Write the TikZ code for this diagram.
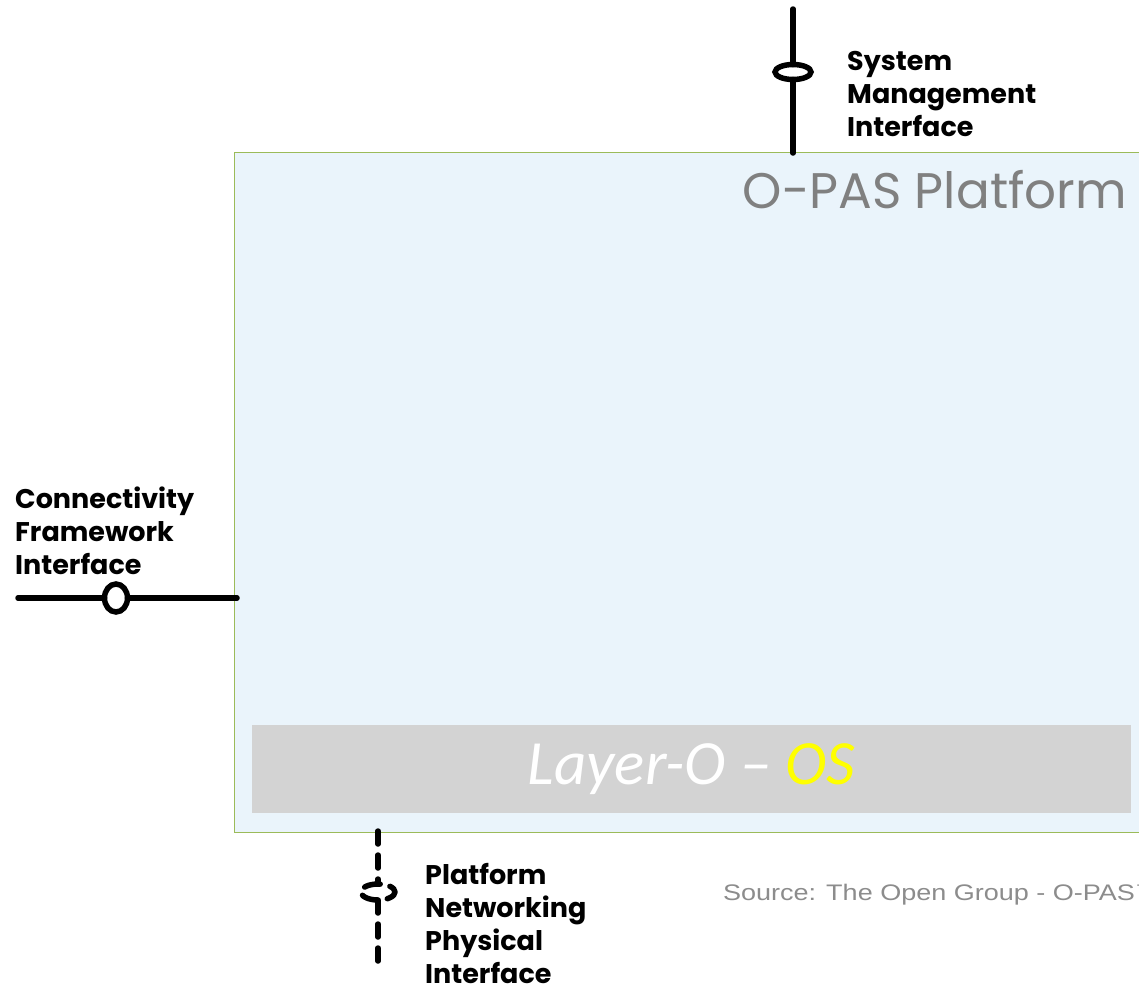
\documentclass[tikz,border=0pt]{standalone}
\usepackage{fontspec}
\setmainfont{Poppins}
\newfontfamily\calfont{Carlito}
\newfontfamily\arialfont[FakeStretch=1.2]{Liberation Sans}
\usetikzlibrary{shapes.geometric}
\definecolor{boxblue}{HTML}{EAF4FB}
\definecolor{boxgreen}{HTML}{9BBB59}
\definecolor{layergray}{HTML}{D3D3D3}
\definecolor{titlegray}{HTML}{808080}
\definecolor{srcgray}{HTML}{8C8C8C}
\definecolor{osyellow}{HTML}{FFFF00}
\begin{document}
\begin{tikzpicture}[x=1pt,y=-1pt,
  lbl/.style={font=\bfseries\fontsize{27}{33}\selectfont, align=left, anchor=north west, inner sep=0pt, text=black},
  wire/.style={line width=5.5pt, line cap=round},
  dwire/.style={wire, dash pattern=on 13pt off 11pt},
  ring/.style={ellipse, draw, line width=5.5pt, fill=white, inner sep=0pt, outer sep=0pt}]
\clip (0,0) rectangle (1139,993);
\fill[white] (0,0) rectangle (1139,993);
% platform box
\node[draw=boxgreen, fill=boxblue, line width=1.2pt, anchor=north west, inner sep=0pt,
  minimum width=930pt, minimum height=680pt] (plat) at (234,152) {};
\node[anchor=base east, inner sep=0pt, text=titlegray, font=\fontsize{50}{52}\selectfont] (title) at (1127,208) {O-PAS Platform};
% layer box
\node[fill=layergray, anchor=north west, inner sep=0pt, minimum width=879pt, minimum height=88pt,
  font=\calfont\itshape\fontsize{63}{65}\selectfont, text=white] (layer) at (252,725) {Layer-O – \textcolor{osyellow}{OS}};
% system management interface
\coordinate (smtop) at (793,9);
\node[ring, minimum width=36pt, minimum height=15pt] (smring) at (793,72) {};
\coordinate (smbot) at (793,153);
\draw[wire] (smtop) -- (smring);
\draw[wire] (smring) -- (smbot);
\node[lbl] (smlbl) at (847,51) {System\\Management\\Interface};
% connectivity framework interface
\coordinate (cfleft) at (18,598);
\node[ring, minimum width=23pt, minimum height=28pt] (cfring) at (116,598) {};
\coordinate (cfright) at (237,598);
\draw[wire] (cfleft) -- (cfring);
\draw[wire] (cfring) -- (cfright);
\node[lbl] (cflbl) at (15,487) {Connectivity\\Framework\\Interface};
% platform networking physical interface
\coordinate (pntop) at (378,831);
\node[ellipse, draw, line width=5.5pt, line cap=round, dash pattern=on 16pt off 10pt, dash phase=8pt,
  fill=white, inner sep=0pt, outer sep=0pt, minimum width=34pt, minimum height=16pt] (pnring) at (378,892) {};
\coordinate (pnbot) at (378,962);
\draw[dwire] (pntop) -- (pnring);
\draw[dwire] (pnring) -- (pnbot);
\node[lbl] (pnlbl) at (425,863) {Platform\\Networking\\Physical\\Interface};
% source
\node[anchor=base west, inner sep=0pt, text=srcgray, font=\arialfont\fontsize{22.5}{24}\selectfont] (src) at (723,900) {Source: The Open Group - O-PAS™};
\end{tikzpicture}
\end{document}
